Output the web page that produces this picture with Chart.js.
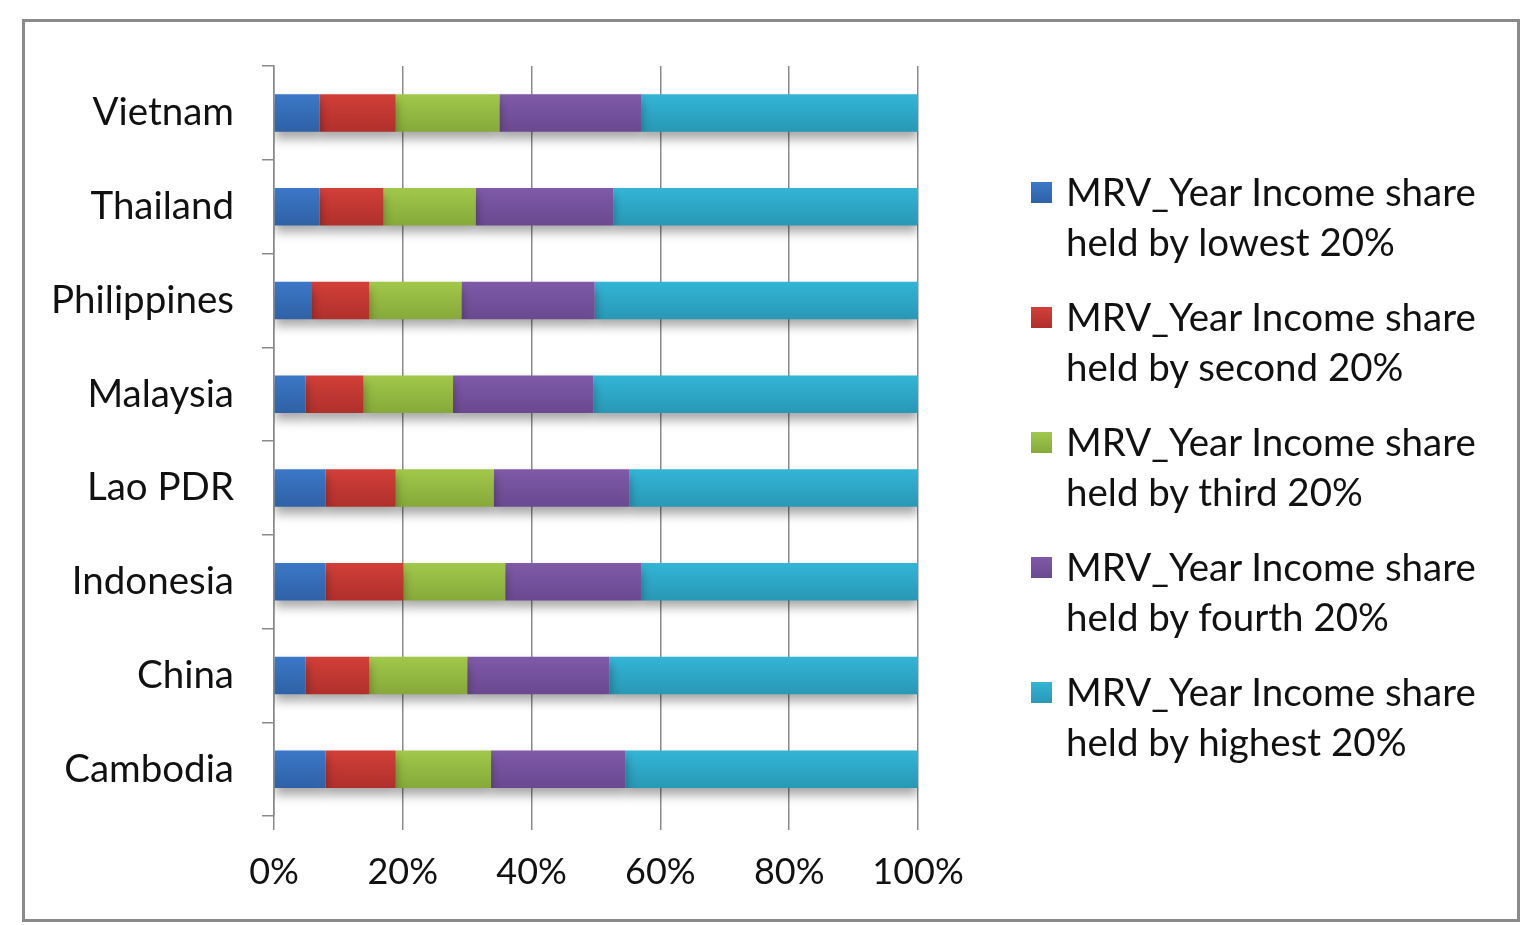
<!DOCTYPE html>
<html>
<head>
<meta charset="utf-8">
<script src="https://cdn.jsdelivr.net/npm/chart.js@4.4.0/dist/chart.umd.min.js"></script>
<style>
    body { margin: 0; background: #ffffff; }
    #wrap { position: relative; width: 1522px; height: 925px; overflow: hidden; }
    #frame { position: absolute; left: 22px; top: 19px; width: 1492px; height: 897px; border: 3px solid #8a8a8a; }
    #chart { position: absolute; left: 0; top: 0; }
    #legend { position: absolute; left: 1031px; top: 166px; font-family: Lato, sans-serif; font-size: 38.5px; color: #111; }
    .item { display: flex; align-items: flex-start; height: 125px; }
    .box { width: 21px; height: 21px; margin-top: 16px; margin-right: 14px; flex: none; }
    .txt { line-height: 50px; white-space: nowrap; }
</style>
</head>
<body>
<div id="wrap">
    <div id="frame"></div>
    <canvas id="chart" width="1522" height="925"></canvas>
    <div id="legend"></div>
</div>
<script>
// countries, top to bottom as drawn
const countries = ['Vietnam', 'Thailand', 'Philippines', 'Malaysia', 'Lao PDR', 'Indonesia', 'China', 'Cambodia'];

// income share (%) held by each quintile
const lowest20  = [7.1, 7.1, 5.9, 4.9, 8.0, 8.0, 4.9, 8.0];
const second20  = [11.8, 9.9, 8.9, 9.0, 10.9, 12.1, 9.9, 10.9];
const third20   = [16.1, 14.3, 14.3, 13.9, 15.2, 15.8, 15.2, 14.8];
const fourth20  = [22.0, 21.4, 20.7, 21.8, 21.1, 21.1, 22.1, 20.9];
const highest20 = [43.0, 47.3, 50.2, 50.4, 44.8, 43.0, 47.9, 45.4];

const seriesNames = [
    'MRV_Year Income share held by lowest 20%',
    'MRV_Year Income share held by second 20%',
    'MRV_Year Income share held by third 20%',
    'MRV_Year Income share held by fourth 20%',
    'MRV_Year Income share held by highest 20%'
];
// [top, bottom] of the bar gradient
const seriesColors = [
    ['#3b78c8', '#2f61a6'],
    ['#d23f38', '#b0302b'],
    ['#a1c84a', '#86a93a'],
    ['#7f5aa8', '#6a4990'],
    ['#33b5d6', '#2898b5']
];
const xTicks = [0, 20, 40, 60, 80, 100];

const FONT = 'Lato';
const GRID = '#8a8a8a';

// soft shadow under the bars
const barShadow = {
    id: 'barShadow',
    beforeDatasetsDraw(chart) {
        const c = chart.ctx;
        c.save();
        c.shadowColor = 'rgba(0, 0, 0, 0.35)';
        c.shadowBlur = 10;
        c.shadowOffsetY = 7;
    },
    afterDatasetsDraw(chart) {
        chart.ctx.restore();
    }
};

function barFill(pair) {
    return function(context) {
        const chart = context.chart;
        const y = chart.scales && chart.scales.y;
        if (!y || !chart.chartArea || context.dataIndex === undefined) return pair[0];
        const mid = y.getPixelForValue(context.dataIndex);
        const half = y.height / countries.length * 0.2;
        if (!isFinite(mid) || !isFinite(half) || half <= 0) return pair[0];
        const g = chart.ctx.createLinearGradient(0, mid - half, 0, mid + half);
        g.addColorStop(0, pair[0]);
        g.addColorStop(1, pair[1]);
        return g;
    };
}

const seriesData = [lowest20, second20, third20, fourth20, highest20];

const chart = new Chart(document.getElementById('chart'), {
    type: 'bar',
    data: {
        labels: countries,
        datasets: seriesData.map((d, i) => ({
            label: seriesNames[i],
            data: d,
            backgroundColor: barFill(seriesColors[i]),
            borderWidth: 0,
            categoryPercentage: 1,
            barPercentage: 0.4
        }))
    },
    options: {
        indexAxis: 'y',
        responsive: false,
        animation: false,
        layout: { padding: { left: 0, top: 66, right: 604, bottom: 0 } },
        plugins: {
            legend: { display: false },
            tooltip: { enabled: false }
        },
        scales: {
            x: {
                stacked: true,
                min: 0,
                max: 100,
                afterBuildTicks: scale => { scale.ticks = xTicks.map(v => ({ value: v })); },
                afterFit: scale => { scale.height = 925 - 816; },
                border: { display: false },
                grid: { color: GRID, lineWidth: 1.5, tickLength: 14, drawTicks: true },
                ticks: {
                    color: '#111',
                    font: { family: FONT, size: 36 },
                    padding: 21,
                    callback: v => v + '%'
                }
            },
            y: {
                stacked: true,
                afterFit: scale => { scale.width = 274; },
                border: { display: true, color: GRID, width: 1.5 },
                grid: { color: GRID, lineWidth: 1.5, drawOnChartArea: false, tickLength: 12, offset: true },
                ticks: {
                    color: '#111',
                    font: { family: FONT, size: 38.5 },
                    padding: 28
                }
            }
        }
    },
    plugins: [barShadow]
});

// legend with wrapped labels
const legend = document.getElementById('legend');
seriesNames.forEach((name, i) => {
    const cut = name.indexOf(' held');
    const item = document.createElement('div');
    item.className = 'item';
    item.innerHTML = '<div class="box" style="background:linear-gradient(' + seriesColors[i][0] + ',' + seriesColors[i][1] + ')"></div>' +
        '<div class="txt">' + name.slice(0, cut) + '<br>' + name.slice(cut + 1) + '</div>';
    legend.appendChild(item);
});
</script>
</body>
</html>
